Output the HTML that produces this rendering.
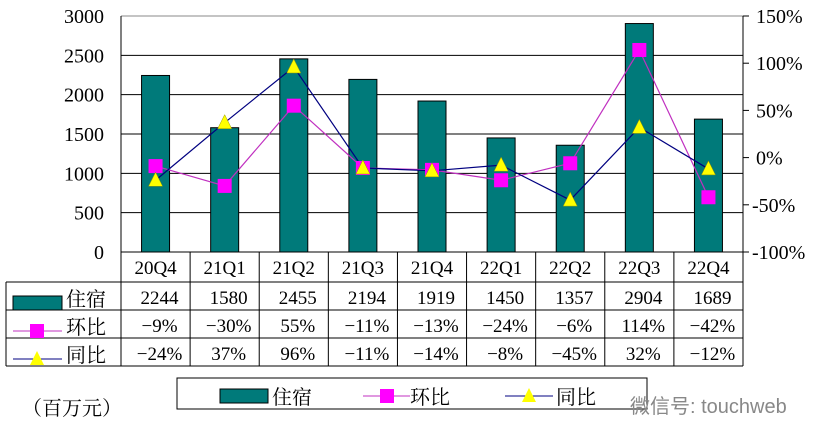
<!DOCTYPE html>
<html><head><meta charset="utf-8"><style>
body{margin:0;background:#fff;width:821px;height:440px;overflow:hidden}
text{font-family:"Liberation Serif","Noto Serif CJK SC",serif;fill:#000}
</style></head><body>
<svg id="c" width="821" height="440"></svg>
<script>
const categories=["20Q4","21Q1","21Q2","21Q3","21Q4","22Q1","22Q2","22Q3","22Q4"];
const lodging=[2244,1580,2455,2194,1919,1450,1357,2904,1689];
const qoq=[-9,-30,55,-11,-13,-24,-6,114,-42];
const yoy=[-24,37,96,-11,-14,-8,-45,32,-12];
const leftTicks=[0,500,1000,1500,2000,2500,3000];
const rightTicks=[-100,-50,0,50,100,150];
const NS="http://www.w3.org/2000/svg";
const svg=document.getElementById('c');
const L=121,R=743,T=16,B=252,cw=(R-L)/categories.length;
const yL=v=>B-v/3000*(B-T);
const yR=v=>B-(v+100)/250*(B-T);
const xC=i=>L+cw*(i+0.5);
function el(t,a,p){const e=document.createElementNS(NS,t);for(const k in a)e.setAttribute(k,a[k]);(p||svg).appendChild(e);return e;}
function tx(s,x,y,size,anchor){const e=el('text',{x:x,y:y,'font-size':size,'text-anchor':anchor||'middle'});e.textContent=s;return e;}
leftTicks.forEach(v=>{const g=el('line',{x1:L,x2:R,y1:yL(v),y2:yL(v),stroke:v==3000?'#888':'#000','stroke-width':1});


const t=tx(String(v),104,yL(v)+7,20,'end');

});
el('line',{x1:L,x2:L,y1:T,y2:B,stroke:'#000'});
el('line',{x1:R,x2:R,y1:T,y2:B,stroke:'#000'});
rightTicks.forEach(v=>{el('line',{x1:R,x2:R+6,y1:yR(v),y2:yR(v),stroke:'#000'});
const t=tx(v+'%',R+(v<0?9:13),yR(v)+7,20,'start');

});
lodging.forEach((v,i)=>{const b=el('rect',{x:xC(i)-14,y:yL(v),width:28,height:B-yL(v),fill:'#007a7a',stroke:'#000','stroke-width':1});

});
function line(vals,col,w){return el('polyline',{points:vals.map((v,i)=>xC(i)+','+yR(v)).join(' '),fill:'none',stroke:col,'stroke-width':w});}
const lq=line(qoq,'#c030c0',1.2);


const ly=line(yoy,'#000080',1.2);


qoq.forEach((v,i)=>{const m=el('rect',{x:xC(i)-7,y:yR(v)-7,width:14,height:14,fill:'#ff00ff'});

});
yoy.forEach((v,i)=>{const x=xC(i),y=yR(v);const m=el('polygon',{points:`${x},${y-8} ${x-7},${y+6} ${x+7},${y+6}`,fill:'#ffff00',stroke:'#999900','stroke-width':0.5});

});
const rows=[252,282,310,338,366];
el('line',{x1:L,x2:R,y1:252,y2:252,stroke:'#000'});
[282,310,338,366].forEach(y=>el('line',{x1:6,x2:R,y1:y,y2:y,stroke:'#000'}));
el('line',{x1:6,x2:6,y1:282,y2:366,stroke:'#000'});
for(let i=0;i<=categories.length;i++)el('line',{x1:L+cw*i,x2:L+cw*i,y1:252,y2:366,stroke:'#000'});
categories.forEach((c,i)=>{const t=tx(c,xC(i),274,19);


[lodging[i],qoq[i]+'%',yoy[i]+'%'].forEach((s,r)=>{const t2=tx(String(s).replace('-','−'),xC(i)+4,rows[r+1]+22,19);

});});
el('rect',{x:13,y:296,width:49,height:14,fill:'#007a7a',stroke:'#000'});
tx('住宿',66,306,20,'start');
el('line',{x1:13,x2:62,y1:331,y2:331,stroke:'#c030c0'});el('rect',{x:30,y:324,width:14,height:14,fill:'#ff00ff'});
tx('环比',66,334,20,'start');
el('line',{x1:13,x2:62,y1:359,y2:359,stroke:'#000080'});el('polygon',{points:'37,351 30,365 44,365',fill:'#ffff00'});
tx('同比',66,362,20,'start');
const lg=el('rect',{x:177,y:378,width:470,height:31,fill:'none',stroke:'#000'});


el('rect',{x:220,y:389,width:48,height:14,fill:'#007a7a',stroke:'#000'});tx('住宿',272,404,20,'start');
el('line',{x1:363,x2:410,y1:396,y2:396,stroke:'#c030c0'});el('rect',{x:380,y:389,width:14,height:14,fill:'#ff00ff'});tx('环比',410,404,20,'start');
el('line',{x1:505,x2:553,y1:396,y2:396,stroke:'#000080'});el('polygon',{points:'529,388 522,402 536,402',fill:'#ffff00'});tx('同比',556,404,20,'start');
const u=tx('（百万元）',72,415,20);


const w=el('text',{x:630,y:413,'font-size':20,'text-anchor':'start',style:'fill:#888;font-family:"Liberation Sans","Noto Sans CJK SC",sans-serif'});w.textContent='微信号: touchweb';


</script></body></html>
